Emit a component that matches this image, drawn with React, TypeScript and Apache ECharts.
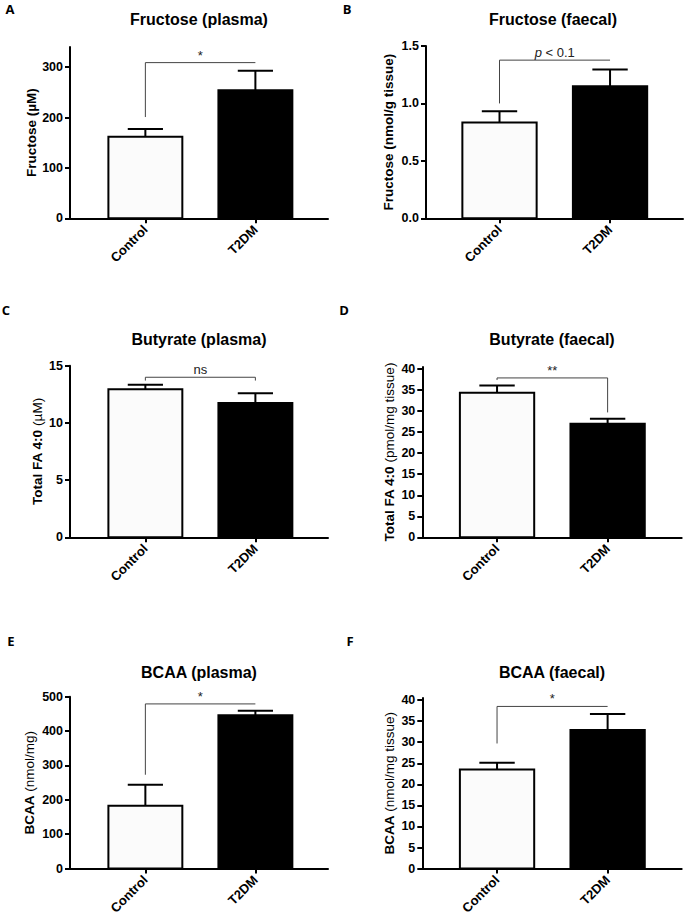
import React, { useEffect, useRef } from "react";
import * as echarts from "echarts";

const categories = ["Control", "T2DM"];

// mean and SEM per group (Control, T2DM)
const fructosePlasmaMean = [162, 254];
const fructosePlasmaSem = [15, 39];
const fructoseFaecalMean = [0.835, 1.15];
const fructoseFaecalSem = [0.098, 0.146];
const butyratePlasmaMean = [12.94, 11.74];
const butyratePlasmaSem = [0.4, 0.85];
const butyrateFaecalMean = [34.4, 27.0];
const butyrateFaecalSem = [1.7, 1.2];
const bcaaPlasmaMean = [183, 446];
const bcaaPlasmaSem = [61, 13];
const bcaaFaecalMean = [23.5, 32.9];
const bcaaFaecalSem = [1.6, 3.8];

// significance brackets: [left drop end, bracket height, right drop end]
const fructosePlasmaBracket = [201, 309, 309];
const fructoseFaecalBracket = [1.0, 1.377, 1.377];
const butyratePlasmaBracket = [13.7, 13.99, 13.7];
const butyrateFaecalBracket = [37.4, 37.9, 29.7];
const bcaaPlasmaBracket = [273, 479, 479];
const bcaaFaecalBracket = [29.7, 38.5, 38.5];

const fructosePlasmaSig = "*";
const fructoseFaecalSig = "{i|p} < 0.1";
const butyratePlasmaSig = "ns";
const butyrateFaecalSig = "**";
const bcaaPlasmaSig = "*";
const bcaaFaecalSig = "*";

// y tick values
const fructosePlasmaTicks = [0, 100, 200, 300];
const fructoseFaecalTicks = [0, 0.5, 1.0, 1.5];
const butyratePlasmaTicks = [0, 5, 10, 15];
const butyrateFaecalTicks = [0, 5, 10, 15, 20, 25, 30, 35, 40];
const bcaaPlasmaTicks = [0, 100, 200, 300, 400, 500];
const bcaaFaecalTicks = [0, 5, 10, 15, 20, 25, 30, 35, 40];

const FONT = '"Liberation Sans", Arial, sans-serif';

const panels = [
  {
    letter: "A", title: "Fructose (plasma)",
    yName: "Fructose (µM)", rich: false,
    mean: fructosePlasmaMean, sem: fructosePlasmaSem, bracket: fructosePlasmaBracket, sig: fructosePlasmaSig,
    ticks: fructosePlasmaTicks, decimals: 0, yMax: 340,
    grid: { left: 70, top: 47, width: 258, height: 171.3 }, xMin: -0.685, xMax: 1.66, nameGap: 32,
    titlePos: [199, 19], letterPos: [10, 9],
  },
  {
    letter: "B", title: "Fructose (faecal)",
    yName: "Fructose (nmol/g tissue)", rich: false,
    mean: fructoseFaecalMean, sem: fructoseFaecalSem, bracket: fructoseFaecalBracket, sig: fructoseFaecalSig,
    ticks: fructoseFaecalTicks, decimals: 1, yMax: 1.5,
    grid: { left: 426, top: 46, width: 257, height: 172.3 }, xMin: -0.665, xMax: 1.66, nameGap: 31,
    titlePos: [553, 19], letterPos: [347, 9],
  },
  {
    letter: "C", title: "Butyrate (plasma)",
    yName: "{b|Total FA 4:0} {n|(µM)}", rich: true,
    mean: butyratePlasmaMean, sem: butyratePlasmaSem, bracket: butyratePlasmaBracket, sig: butyratePlasmaSig,
    ticks: butyratePlasmaTicks, decimals: 0, yMax: 15,
    grid: { left: 70, top: 365.7, width: 258, height: 171.6 }, xMin: -0.685, xMax: 1.66, nameGap: 26,
    titlePos: [199, 339], letterPos: [6, 310],
  },
  {
    letter: "D", title: "Butyrate (faecal)",
    yName: "{b|Total FA 4:0} {n|(pmol/mg tissue)}", rich: true,
    mean: butyrateFaecalMean, sem: butyrateFaecalSem, bracket: butyrateFaecalBracket, sig: butyrateFaecalSig,
    ticks: butyrateFaecalTicks, decimals: 0, yMax: 40.5,
    grid: { left: 422.3, top: 367, width: 259.4, height: 170.3 }, xMin: -0.676, xMax: 1.67, nameGap: 26,
    titlePos: [552, 339], letterPos: [344, 310],
  },
  {
    letter: "E", title: "BCAA (plasma)",
    yName: "{b|BCAA} {n|(nmol/mg)}", rich: true,
    mean: bcaaPlasmaMean, sem: bcaaPlasmaSem, bracket: bcaaPlasmaBracket, sig: bcaaPlasmaSig,
    ticks: bcaaPlasmaTicks, decimals: 0, yMax: 500,
    grid: { left: 70, top: 696.7, width: 258, height: 172.3 }, xMin: -0.685, xMax: 1.66, nameGap: 34,
    titlePos: [199, 672], letterPos: [11, 641],
  },
  {
    letter: "F", title: "BCAA (faecal)",
    yName: "{b|BCAA} {n|(nmol/mg tissue)}", rich: true,
    mean: bcaaFaecalMean, sem: bcaaFaecalSem, bracket: bcaaFaecalBracket, sig: bcaaFaecalSig,
    ticks: bcaaFaecalTicks, decimals: 0, yMax: 40.5,
    grid: { left: 422.3, top: 698, width: 259.4, height: 171 }, xMin: -0.676, xMax: 1.67, nameGap: 26,
    titlePos: [552, 672], letterPos: [350, 641],
  },
];

const BAR_FILLS = ["#fbfbfb", "#000000"];
const HALF_BAR = 0.336;
const HALF_CAP = 0.16;
const NAME_SIZE = 13.5;

function buildOption() {
  const grid: any[] = [];
  const xAxis: any[] = [];
  const yAxis: any[] = [];
  const series: any[] = [];
  const graphic: any[] = [];

  panels.forEach((p, i) => {
    grid.push({ ...p.grid, containLabel: false });
    xAxis.push({
      type: "value",
      gridIndex: i,
      min: p.xMin,
      max: p.xMax,
      splitLine: { show: false },
      axisLine: { show: true, onZero: false, lineStyle: { color: "#000", width: 2 } },
      axisTick: { show: true, customValues: [0, 1], length: 5, lineStyle: { color: "#000", width: 2 } },
      axisLabel: {
        customValues: [0, 1],
        formatter: (v: number) => categories[Math.round(v)],
        rotate: 45,
        margin: 9,
        color: "#000",
        fontWeight: "bold",
        fontSize: 13,
        fontFamily: FONT,
      },
    });
    yAxis.push({
      type: "value",
      gridIndex: i,
      min: 0,
      max: p.yMax,
      splitLine: { show: false },
      axisLine: { show: true, onZero: false, lineStyle: { color: "#000", width: 2 } },
      axisTick: { show: true, customValues: p.ticks, length: 5, lineStyle: { color: "#000", width: 2 } },
      axisLabel: {
        customValues: p.ticks,
        formatter: (v: number) => v.toFixed(p.decimals),
        margin: 7,
        color: "#000",
        fontWeight: "bold",
        fontSize: 12.5,
        fontFamily: FONT,
      },
      name: p.yName,
      nameLocation: "middle",
      nameRotate: 90,
      nameGap: p.nameGap,
      nameTextStyle: p.rich
        ? {
            color: "#000",
            fontSize: NAME_SIZE,
            fontFamily: FONT,
            rich: {
              b: { fontWeight: "bold", fontSize: NAME_SIZE, fontFamily: FONT, color: "#000" },
              n: { fontWeight: "normal", fontSize: NAME_SIZE, fontFamily: FONT, color: "#000" },
            },
          }
        : { color: "#000", fontSize: NAME_SIZE, fontWeight: "bold", fontFamily: FONT },
    });

    series.push({
      type: "custom",
      xAxisIndex: i,
      yAxisIndex: i,
      data: p.mean.map((m, k) => [k, m, p.sem[k]]),
      renderItem: (params: any, api: any) => {
        const x = api.value(0);
        const m = api.value(1);
        const s = api.value(2);
        const tl = api.coord([x - HALF_BAR, m]);
        const br = api.coord([x + HALF_BAR, 0]);
        const top = api.coord([x, m]);
        const eTop = api.coord([x, m + s]);
        const cl = api.coord([x - HALF_CAP, m + s]);
        const cr = api.coord([x + HALF_CAP, m + s]);
        return {
          type: "group",
          children: [
            {
              type: "rect",
              shape: { x: tl[0], y: tl[1], width: br[0] - tl[0], height: br[1] - tl[1] },
              style: { fill: BAR_FILLS[params.dataIndex], stroke: "#000", lineWidth: 2 },
            },
            {
              type: "line",
              shape: { x1: top[0], y1: top[1], x2: eTop[0], y2: eTop[1] },
              style: { stroke: "#000", lineWidth: 2 },
            },
            {
              type: "line",
              shape: { x1: cl[0], y1: cl[1], x2: cr[0], y2: cr[1] },
              style: { stroke: "#000", lineWidth: 2 },
            },
          ],
        };
      },
    });

    series.push({
      type: "custom",
      xAxisIndex: i,
      yAxisIndex: i,
      data: [p.bracket],
      renderItem: (params: any, api: any) => {
        const l = api.coord([0, api.value(0)]);
        const tl = api.coord([0, api.value(1)]);
        const tr = api.coord([1, api.value(1)]);
        const r = api.coord([1, api.value(2)]);
        return {
          type: "group",
          children: [
            {
              type: "polyline",
              shape: { points: [l, tl, tr, r] },
              style: { stroke: "#444", lineWidth: 1, fill: "none" },
            },
            {
              type: "text",
              x: (tl[0] + tr[0]) / 2,
              y: tl[1] - 1,
              style: {
                text: p.sig,
                align: "center",
                verticalAlign: "bottom",
                fill: "#222",
                font: `13px ${FONT}`,
                rich: { i: { fontStyle: "italic", fontSize: 13, fontFamily: FONT, fill: "#222" } },
              },
            },
          ],
        };
      },
    });

    graphic.push({
      type: "text",
      x: p.titlePos[0],
      y: p.titlePos[1],
      style: { text: p.title, align: "center", verticalAlign: "middle", fill: "#000", font: `bold 16px ${FONT}` },
    });
    graphic.push({
      type: "text",
      x: p.letterPos[0],
      y: p.letterPos[1],
      style: { text: p.letter, align: "center", verticalAlign: "middle", fill: "#000", font: `bold 13px "Open Sans", sans-serif` },
    });
  });

  return { animation: false, backgroundColor: "#fff", grid, xAxis, yAxis, series, graphic };
}

export default function App() {
  const ref = useRef<HTMLDivElement>(null);
  useEffect(() => {
    if (!ref.current) return;
    const chart = echarts.init(ref.current, undefined, { renderer: "svg" });
    chart.setOption(buildOption() as any);
    return () => chart.dispose();
  }, []);
  return (
    <div
      ref={ref}
      style={{ position: "fixed", left: 0, top: 0, width: 685, height: 917, background: "#fff" }}
    />
  );
}
